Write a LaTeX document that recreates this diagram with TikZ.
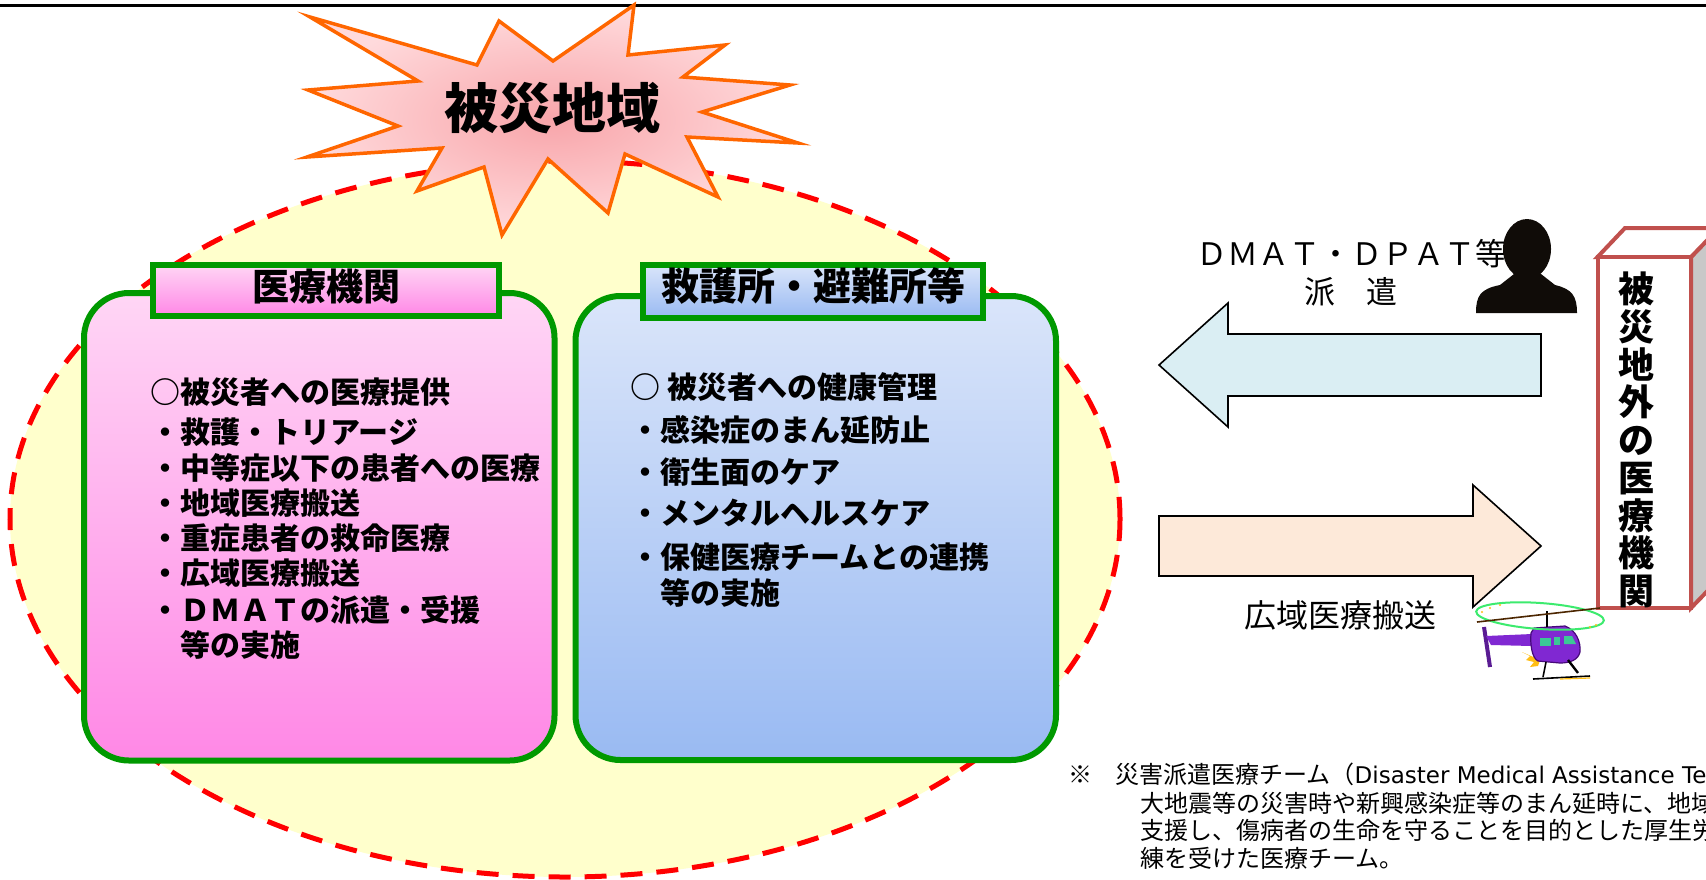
\documentclass[tikz,border=0pt]{standalone}
\usepackage{fontspec}
\setmainfont{Noto Sans CJK JP}
\newfontfamily\latinnote{DejaVu Sans}
\begin{document}
\definecolor{zoneyellow}{RGB}{255,255,204}
\definecolor{zonered}{RGB}{255,0,0}
\definecolor{burstorange}{RGB}{255,102,0}
\definecolor{burstin}{RGB}{248,165,170}
\definecolor{burstout}{RGB}{255,218,220}
\definecolor{boxgreen}{RGB}{0,153,0}
\definecolor{pinktop}{RGB}{255,214,245}
\definecolor{pinkbot}{RGB}{255,136,230}
\definecolor{bluetop}{RGB}{218,229,250}
\definecolor{bluebot}{RGB}{153,186,242}
\definecolor{arrowblue}{RGB}{218,238,243}
\definecolor{arrowpeach}{RGB}{253,233,217}
\definecolor{bldred}{RGB}{192,80,77}
\definecolor{bldgray}{RGB}{200,200,200}
\definecolor{silhouette}{RGB}{16,12,8}
\definecolor{heliviolet}{RGB}{128,40,210}
\definecolor{helidark}{RGB}{70,10,120}
\definecolor{heliglass}{RGB}{60,200,150}
\definecolor{rotorgreen}{RGB}{60,235,110}
\definecolor{sparkyellow}{RGB}{255,190,20}
\begin{tikzpicture}[x=0.5pt,y=-0.5pt,
  ltxt/.style={font=\bfseries\fontsize{15pt}{18pt}\selectfont, anchor=base west, inner sep=0pt},
  ttl/.style={font=\bfseries\fontsize{18.5pt}{21pt}\selectfont, anchor=base, inner sep=0pt},
  vtxt/.style={font=\bfseries\fontsize{18pt}{20pt}\selectfont, anchor=base, inner sep=0pt},
  plain/.style={font=\fontsize{15.5pt}{18pt}\selectfont, inner sep=0pt},
  note/.style={font=\fontsize{12pt}{14pt}\selectfont, anchor=base west, inner sep=0pt},
  contentbox/.style={line width=3pt, draw=boxgreen, rounded corners=22.5pt},
  titlebox/.style={line width=3pt, draw=boxgreen},
  blockarrow/.style={draw=black, line width=0.8pt, line join=miter}
]
\useasboundingbox (0,0) rectangle (1706,879);
\clip (0,0) rectangle (1706,879);
\fill[white] (0,0) rectangle (1706,879);

% rule along the top edge
\draw[line width=1.25pt] (0,5.5) -- (1706,5.5);

% affected area
\draw[fill=zoneyellow, draw=zonered, line width=2.5pt, dash pattern=on 11pt off 7pt]
  (565,519) ellipse [x radius=555, y radius=358];

% starburst
\draw[shading=radial, inner color=burstin, outer color=burstout,
      draw=burstorange, line width=1.75pt, line join=miter]
  (634,5) -- (628,55) -- (725,45) -- (683,77) -- (790,85) -- (702,112) --
  (798,143) -- (687,137) -- (718,197) -- (625,154) -- (608,213) -- (548,159) --
  (502,235) -- (484,167) -- (417,191) -- (442,148) -- (307,157) -- (398,126) --
  (308,90) -- (418,81) -- (310,17) -- (477,65) -- (499,21) -- (553,61) -- cycle;
\node[font=\bfseries\fontsize{27pt}{30pt}\selectfont, anchor=base, inner sep=0pt]
  (area) at (552,128) {被災地域};

% hospital box
\draw[contentbox, top color=pinktop, bottom color=pinkbot]
  (84,293) rectangle (554.5,760.5);
\draw[titlebox, top color=pinktop, bottom color=pinkbot]
  (153,264.5) rectangle (499,315.5);
\node[ttl] (t1) at (326,300) {医療機関};
\node[ltxt] (l1) at (150,403) {○被災者への医療提供};
\node[ltxt] (l2) at (150,443) {・救護・トリアージ};
\node[ltxt] (l3) at (150,479) {・中等症以下の患者への医療};
\node[ltxt] (l4) at (150,514) {・地域医療搬送};
\node[ltxt] (l5) at (150,549) {・重症患者の救命医療};
\node[ltxt] (l6) at (150,584) {・広域医療搬送};
\node[ltxt] (l7) at (150,621) {・ＤＭＡＴの派遣・受援};
\node[ltxt] (l8) at (180,656) {等の実施};

% relief station box
\draw[contentbox, top color=bluetop, bottom color=bluebot]
  (575.5,296) rectangle (1056,760);
\draw[titlebox, top color=bluetop, bottom color=bluebot]
  (643,264.5) rectangle (983,318);
\node[ttl, font=\bfseries\fontsize{19pt}{21pt}\selectfont] (t2) at (813,300) {救護所・避難所等};
\node[ltxt] (r1) at (630,398) {○ 被災者への健康管理};
\node[ltxt] (r2) at (630,441) {・感染症のまん延防止};
\node[ltxt] (r3) at (630,483) {・衛生面のケア};
\node[ltxt] (r4) at (630,524) {・メンタルヘルスケア};
\node[ltxt] (r5) at (630,568) {・保健医療チームとの連携};
\node[ltxt] (r6) at (660,604) {等の実施};

% block arrows
\draw[blockarrow, fill=arrowblue]
  (1159,365) -- (1228,303) -- (1228,334) -- (1541,334) -- (1541,396) --
  (1228,396) -- (1228,427) -- cycle;
\draw[blockarrow, fill=arrowpeach]
  (1159,516) -- (1473,516) -- (1473,485) -- (1541,546) -- (1473,607) --
  (1473,576) -- (1159,576) -- cycle;

\node[plain, anchor=base west] (dmat) at (1196,265) {ＤＭＡＴ・ＤＰＡＴ等};
\node[plain, anchor=base] (haken) at (1351,303) {派　遣};
\node[plain, font=\fontsize{16pt}{18pt}\selectfont, anchor=base] (kouiki) at (1340,627) {広域医療搬送};

% dispatched staff silhouette
\fill[silhouette] (1527,249) ellipse [x radius=24, y radius=30];
\fill[silhouette] (1476,313) .. controls (1476,296) and (1480,289) .. (1500,285)
  -- (1514,274) -- (1541,274) -- (1555,285)
  .. controls (1572,289) and (1577,296) .. (1577,313) -- cycle;

% hospital outside the area
\draw[draw=bldred, line width=2pt, fill=bldgray, line join=miter]
  (1691,257) -- (1719,228) -- (1719,579) -- (1691,608) -- cycle;
\draw[draw=bldred, line width=2pt, fill=white, line join=miter]
  (1597.5,257) -- (1625,228) -- (1719,228) -- (1691,257) -- cycle;
\draw[draw=bldred, line width=2pt, fill=white, line join=miter]
  (1597.5,257) rectangle (1691,608);
\foreach \c [count=\i] in {被,災,地,外,の,医,療,機,関}
  \node[vtxt] (bv\i) at ({1636},{302.7+37.75*(\i-1)}) {\c};

% helicopter
\fill[sparkyellow] (1522,652) -- (1530,656) -- (1526,660) -- (1534,662) -- (1530,667)
  -- (1538,666) -- (1540,660) -- cycle;
\draw[heliviolet!70!black, line width=2pt] (1484,627) -- (1490,667);
\fill[heliviolet] (1486,636) -- (1532,634) -- (1532,646) -- (1491,645) -- cycle;
\draw[helidark, line width=0.6pt, fill=heliviolet]
  (1531,633) -- (1534,628) -- (1565,626) .. controls (1576,630) and (1581,642) .. (1580,652)
  .. controls (1578,660) and (1570,663) .. (1560,663) -- (1538,661)
  .. controls (1532,658) and (1530,645) .. (1531,633) -- cycle;
\fill[heliglass] (1540,638) rectangle (1551,646);
\fill[heliglass] (1554,637) rectangle (1560,645);
\fill[heliglass] (1564,636) -- (1572,636) -- (1576,644) -- (1564,644) -- cycle;
\draw[black, line width=0.8pt] (1546,662) -- (1543,677);
\draw[black, line width=1.2pt] (1568,660) -- (1578,673);
\draw[black, line width=0.8pt] (1533,679) -- (1590,676);
\draw[sparkyellow, line width=0.6pt] (1560,679) -- (1590,678);
\draw[black, line width=1pt] (1547,611) -- (1547,627);
\draw[rotorgreen, line width=1pt, rotate around={-4:(1540,616)}]
  (1540,616) ellipse [x radius=64, y radius=13];
\draw[black!70!orange, line width=0.8pt] (1477,622) -- (1600,608);
\foreach \p in {(1482,612),(1490,608),(1500,605),(1590,627),(1596,625)}
  \fill[sparkyellow] \p circle [radius=1.2];

% footnote
\node[note, anchor=base] (mark) at (1080,783) {※};
\node[note] (n1) at (1115,783) {災害派遣医療チーム（{\latinnote\fontsize{11.5pt}{14pt}\selectfont Disaster Medical Assistance Team}）};
\node[note] (n2) at (1140,812) {大地震等の災害時や新興感染症等のまん延時に、地域において};
\node[note] (n3) at (1140,839) {支援し、傷病者の生命を守ることを目的とした厚生労働省};
\node[note] (n4) at (1140,867) {練を受けた医療チーム。};
\end{tikzpicture}
\end{document}
